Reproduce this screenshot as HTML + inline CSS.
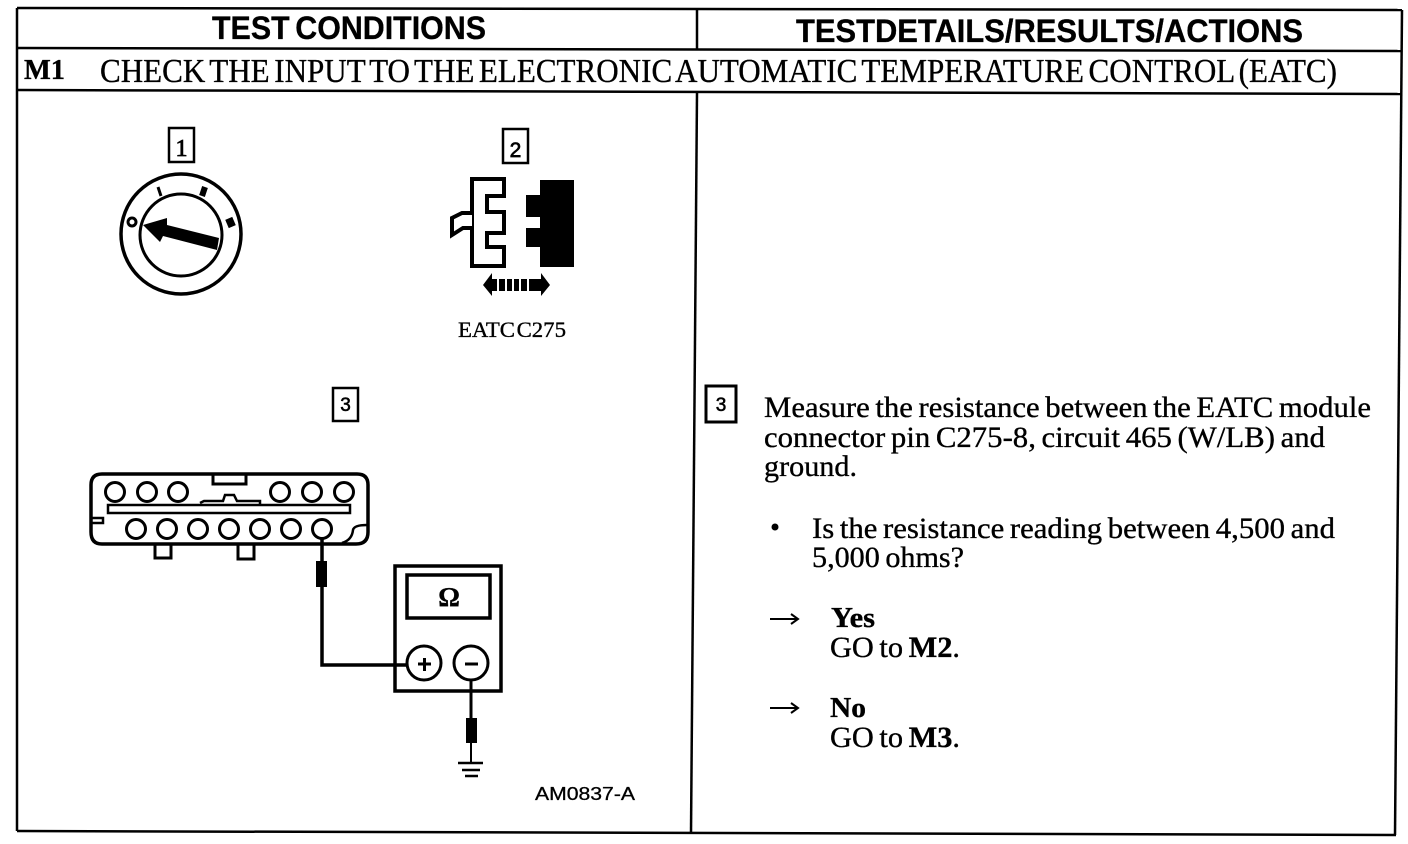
<!DOCTYPE html>
<html><head><meta charset="utf-8"><style>
html,body{margin:0;padding:0;background:#fff}
svg{display:block}
.s{font-family:"Liberation Serif",serif;fill:#000;stroke:#000;stroke-width:.35px}
.a{font-family:"Liberation Sans",sans-serif;fill:#000;stroke:#000;stroke-width:.3px}
.l{fill:none;stroke:#000}
.t{word-spacing:-2px}
.h{word-spacing:-3.500px}
</style></head><body>
<svg width="1408" height="844" viewBox="0 0 1408 844" xmlns="http://www.w3.org/2000/svg">
<rect width="1408" height="844" fill="#fff"/>
<!-- table -->
<g class="l" stroke-width="2.5">
<path d="M17 8L1402 10"/><path d="M17 48L1402 51"/><path d="M17 90L1402 94"/><path d="M17 831L1396 835"/>
<path d="M17 8L17 831"/><path d="M1402 10L1395 835"/>
<path d="M697 9L697 49"/><path d="M697 93L691 833"/>
</g>
<!-- headers -->
<text class="a" x="212" y="39" font-size="32" font-weight="bold" textLength="274" lengthAdjust="spacingAndGlyphs" style="word-spacing:-3px">TEST CONDITIONS</text>
<text class="a" x="796" y="42" font-size="32" font-weight="bold" textLength="507" lengthAdjust="spacingAndGlyphs">TESTDETAILS/RESULTS/ACTIONS</text>
<text class="s" x="24" y="79" font-size="28" font-weight="bold" textLength="41" lengthAdjust="spacingAndGlyphs">M1</text>
<text class="s h" x="100" y="82" font-size="34" textLength="1237" lengthAdjust="spacingAndGlyphs">CHECK THE INPUT TO THE ELECTRONIC AUTOMATIC TEMPERATURE CONTROL (EATC)</text>
<!-- boxed numbers -->
<rect class="l" stroke-width="2.500" x="169" y="128" width="25" height="34"/>
<text class="s" x="181.500" y="156" font-size="24" text-anchor="middle" style="stroke-width:.8px">1</text>
<rect class="l" stroke-width="2.500" x="503" y="129" width="25" height="34"/>
<text class="a" x="515.500" y="157" font-size="21" text-anchor="middle" style="stroke-width:.7px">2</text>
<rect class="l" stroke-width="2.500" x="333" y="388" width="25" height="33"/>
<text class="a" x="345.500" y="411" font-size="19" text-anchor="middle" style="stroke-width:.6px">3</text>
<rect class="l" stroke-width="3" x="706" y="386" width="30" height="36"/>
<text class="a" x="721" y="411" font-size="19" text-anchor="middle" style="stroke-width:.6px">3</text>
<!-- dial -->
<circle class="l" cx="181" cy="234" r="60" stroke-width="3.500"/>
<circle class="l" cx="181" cy="235" r="41" stroke-width="3"/>
<polygon points="143,225 167,218 167,225 219,238 217,250 163,236 160,242" fill="#000"/>
<path class="l" d="M158 187L161 196" stroke-width="3"/>
<path class="l" d="M205 187L202 196" stroke-width="6"/>
<circle class="l" cx="132" cy="222" r="4" stroke-width="3"/>
<path class="l" d="M227 224L234 221" stroke-width="9"/>
<!-- connector 2 -->
<path class="l" stroke-width="4" d="M472 179H504V196H487V212H504V233H487V247H504V266H472Z"/>
<path stroke="#000" stroke-width="4" fill="#fff" d="M472 213H462L452 218V235L463 228H472"/>
<rect x="540" y="180" width="34" height="87" fill="#000"/>
<rect x="526" y="195" width="15" height="22" fill="#000"/>
<rect x="526" y="228" width="15" height="19" fill="#000"/>
<polygon points="483,285 492,273 492,296" fill="#000"/>
<polygon points="550,285 541,273 541,296" fill="#000"/>
<rect x="492" y="279" width="49" height="12" fill="#000"/>
<g fill="#fff"><rect x="497" y="279" width="2" height="12"/><rect x="505" y="279" width="2" height="12"/><rect x="512" y="279" width="2" height="12"/><rect x="519" y="279" width="2" height="12"/><rect x="527" y="279" width="2" height="12"/></g>
<text class="s" x="458" y="337" font-size="22" textLength="108" lengthAdjust="spacingAndGlyphs" style="word-spacing:-4px">EATC C275</text>
<!-- bottom connector -->
<path class="l" stroke-width="3.500" d="M102 474H357Q368 474 368 485V532Q368 544 356 544H102Q91 544 91 532V485Q91 474 102 474Z"/>
<path class="l" stroke-width="3" d="M213 474V484H246V474"/>
<path class="l" stroke-width="3" d="M155 545V558H171V545M238 545V559H254V545"/>
<rect class="l" stroke-width="2.500" x="108" y="505" width="242" height="8"/>
<path class="l" stroke-width="2.500" d="M91 518H103V523H91"/>
<path class="l" stroke-width="2.500" d="M200 503L204 501H223L225 495H234L237 501H260V504"/>
<path class="l" stroke-width="2.500" d="M342 543Q352 540 353 530Q354 525 367 525"/>
<g class="l" stroke-width="3">
<circle cx="115" cy="492" r="9.500"/><circle cx="147" cy="492" r="9.500"/><circle cx="178" cy="492" r="9.500"/>
<circle cx="280" cy="492" r="9.500"/><circle cx="312" cy="492" r="9.500"/><circle cx="344" cy="492" r="9.500"/>
<circle cx="136" cy="529" r="9.500"/><circle cx="167" cy="529" r="9.500"/><circle cx="198" cy="529" r="9.500"/><circle cx="229" cy="529" r="9.500"/><circle cx="260" cy="529" r="9.500"/><circle cx="291" cy="529" r="9.500"/><circle cx="322" cy="529" r="9.500"/>
</g>
<!-- wire + probes -->
<path class="l" stroke-width="3.500" d="M322 539V665H407"/>
<rect x="316" y="561" width="11" height="26" fill="#000"/>
<!-- meter -->
<rect class="l" stroke-width="3.500" x="395" y="566" width="106" height="125"/>
<rect class="l" stroke-width="3.500" x="407" y="575" width="83" height="43"/>
<text class="s" x="449" y="606" font-size="27" font-weight="bold" text-anchor="middle">Ω</text>
<circle class="l" cx="424" cy="663" r="17" stroke-width="3"/>
<circle class="l" cx="471" cy="663" r="17" stroke-width="3"/>
<path class="l" stroke-width="3" d="M418 664H431M424.500 658V671M465 664H478"/>
<path class="l" stroke-width="3" d="M471 681V720"/>
<rect x="466" y="718" width="11" height="25" fill="#000"/>
<path class="l" stroke-width="2" d="M471 743V762"/>
<path class="l" stroke-width="2.500" d="M458 763H483M462 770H480M465 776H478"/>
<text class="a" x="535" y="800" font-size="18" textLength="100" lengthAdjust="spacingAndGlyphs">AM0837-A</text>
<!-- right text -->
<text class="s t" x="764" y="417" font-size="30" textLength="607" lengthAdjust="spacingAndGlyphs">Measure the resistance between the EATC module</text>
<text class="s t" x="764" y="447" font-size="30" textLength="561" lengthAdjust="spacingAndGlyphs">connector pin C275-8, circuit 465 (W/LB) and</text>
<text class="s t" x="764" y="476" font-size="30" textLength="93" lengthAdjust="spacingAndGlyphs">ground.</text>
<circle cx="775" cy="527" r="3.500" fill="#000"/>
<text class="s t" x="812" y="538" font-size="30" textLength="523" lengthAdjust="spacingAndGlyphs">Is the resistance reading between 4,500 and</text>
<text class="s t" x="812" y="567" font-size="30" textLength="152" lengthAdjust="spacingAndGlyphs">5,000 ohms?</text>
<path class="l" stroke-width="2" d="M770 619H797M791 614L798 619L791 624"/>
<text class="s" x="831" y="627" font-size="29" font-weight="bold" textLength="44" lengthAdjust="spacingAndGlyphs">Yes</text>
<text class="s t" x="830" y="657" font-size="30" textLength="130" lengthAdjust="spacingAndGlyphs">GO to <tspan font-weight="bold">M2</tspan>.</text>
<path class="l" stroke-width="2" d="M770 708H797M791 703L798 708L791 713"/>
<text class="s" x="830" y="717" font-size="29" font-weight="bold" textLength="36" lengthAdjust="spacingAndGlyphs">No</text>
<text class="s t" x="830" y="747" font-size="30" textLength="130" lengthAdjust="spacingAndGlyphs">GO to <tspan font-weight="bold">M3</tspan>.</text>
</svg>
</body></html>
